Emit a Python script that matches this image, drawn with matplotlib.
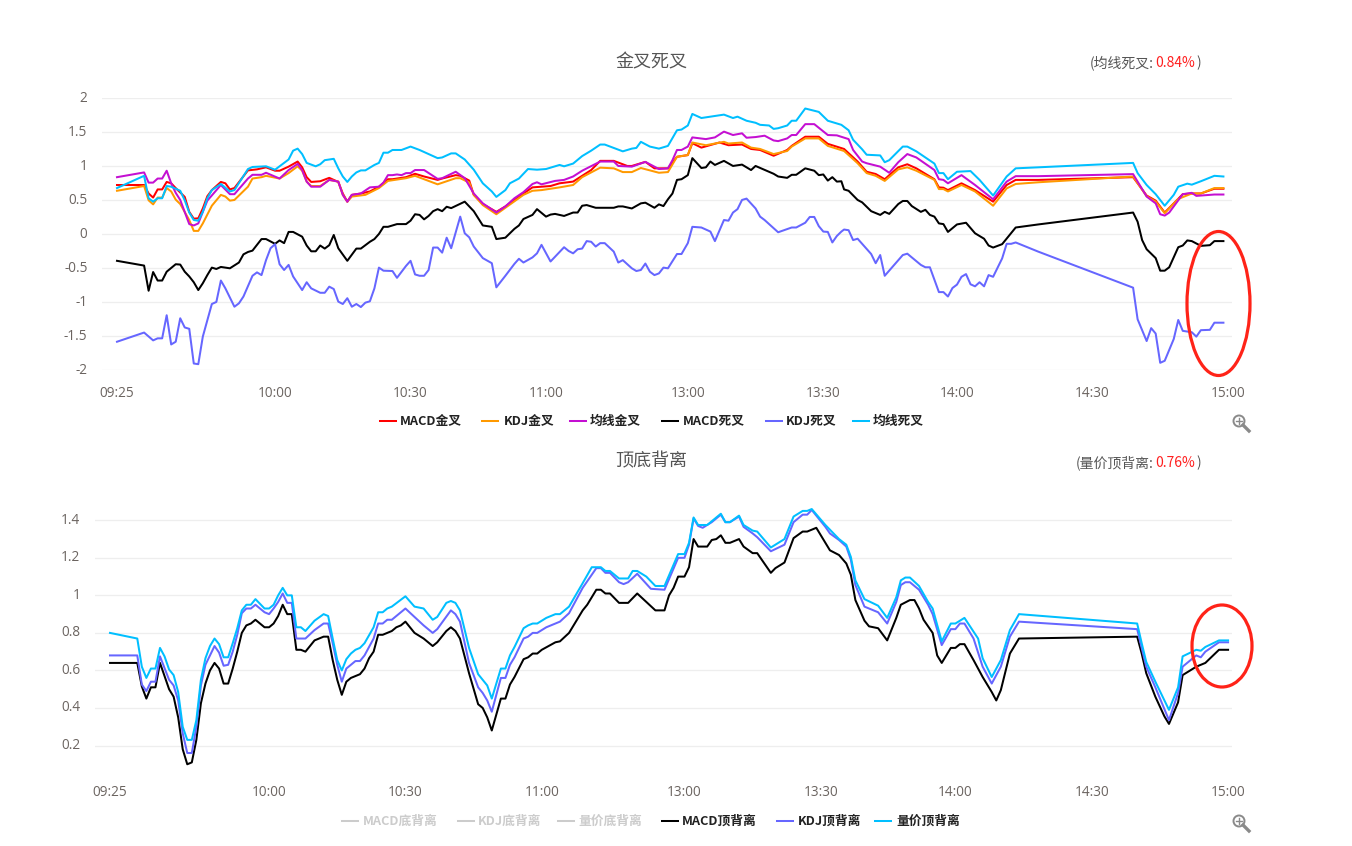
import matplotlib
matplotlib.use("Agg")
import matplotlib.pyplot as plt
from matplotlib.lines import Line2D
from matplotlib.patches import Ellipse, Circle
from matplotlib.transforms import ScaledTranslation

plt.rcParams['font.family'] = ['Noto Sans CJK SC', 'DejaVu Sans']

W, H = 1352, 846

# x is the position on the category axis: minutes since 09:25, lunch break squeezed out
time_pos = [0, 35, 65, 95, 126.4, 156.4, 186, 216, 246]
time_labels = ['09:25', '10:00', '10:30', '11:00', '13:00', '13:30', '14:00', '14:30', '15:00']

top_yticks = [2, 1.5, 1, 0.5, 0, -0.5, -1, -1.5, -2]
top_ylabels = ['2', '1.5', '1', '0.5', '0', '-0.5', '-1', '-1.5', '-2']
bot_yticks = [1.4, 1.2, 1, 0.8, 0.6, 0.4, 0.2]
bot_ylabels = ['1.4', '1.2', '1', '0.8', '0.6', '0.4', '0.2']

macd_gold = [(0,.725),(6,.725),(7,.60),(8,.54),(9,.66),(10,.66),(11,.77),(12,.75),(13,.68),(15,.55),(16,.33),(17,.23),(18,.235),(19,.38),(20,.56),(21,.65),(23,.77),(24,.75),(25,.66),(26,.68),(29,.94),(31,.955),(33,.985),(35,.935),(36,.935),(38,.995),(40,1.07),(41,.985),(42,.84),(43,.77),(45,.78),(47,.83),(49,.77),(50,.60),(51,.48),(52,.58),(54,.60),(56,.63),(58,.70),(60,.81),(61,.81),(64,.84),(66,.89),(68,.85),(71,.80),(72,.82),(75,.87),(76,.86),(78,.79),(79,.58),(81,.445),(84,.33),(86,.41),(90,.60),(92,.69),(96,.71),(98,.75),(101,.775),(105,.945),(107,1.08),(110,1.08),(113,1.005),(114,1.005),(117,1.065),(119,.97),(122,.97),(124,1.14),(126,1.165),(127,1.34),(129,1.275),(133,1.35),(135,1.31),(138,1.32),(140,1.255),(142,1.24),(145,1.155),(148,1.24),(149,1.30),(152,1.435),(155,1.435),(157,1.33),(161,1.255),(164,1.07),(166,.92),(168,.887),(170,.81),(173,.985),(175,1.03),(177,.97),(181,.81),(182,.69),(183,.685),(184,.65),(187,.75),(190,.65),(194,.48),(197,.725),(199,.80),(204,.80),(225,.84),(228,.57),(230,.495),(232,.32),(234,.455),(236,.59),(238,.60),(240,.60),(243,.67),(245,.67)]

kdj_gold = [(0,.64),(6,.71),(7,.50),(8,.44),(9,.54),(10,.54),(11,.68),(12,.63),(13,.51),(14,.445),(16,.21),(17,.05),(18,.05),(19,.16),(21,.42),(23,.58),(24,.555),(25,.495),(26,.505),(29,.70),(30,.82),(32,.84),(33,.86),(36,.82),(38,.90),(40,1.0),(41,.935),(42,.775),(43,.71),(45,.71),(47,.80),(49,.775),(50,.58),(51,.48),(52,.555),(55,.58),(58,.68),(60,.785),(64,.825),(66,.86),(68,.81),(71,.735),(75,.825),(76,.825),(78,.76),(79,.58),(81,.43),(84,.295),(90,.58),(92,.64),(94,.65),(98,.69),(101,.725),(103,.84),(107,.98),(110,.97),(112,.915),(114,.915),(116,.975),(120,.905),(122,.915),(124,1.14),(126,1.165),(127,1.35),(130,1.31),(134,1.36),(135,1.335),(138,1.35),(140,1.275),(142,1.255),(145,1.18),(148,1.225),(149,1.29),(152,1.41),(155,1.41),(157,1.30),(161,1.225),(164,1.045),(166,.90),(168,.86),(170,.785),(173,.955),(175,.985),(177,.935),(181,.80),(182,.665),(183,.665),(184,.63),(187,.725),(190,.63),(194,.42),(197,.675),(199,.74),(204,.765),(225,.85),(228,.56),(230,.48),(232,.31),(235,.52),(238,.60),(240,.60),(243,.68),(245,.68)]

ma_gold = [(0,.84),(6,.91),(7,.76),(8,.76),(9,.82),(10,.82),(11,.935),(12,.75),(13,.61),(14,.505),(16,.15),(17,.13),(18,.16),(19,.33),(20,.495),(23,.725),(25,.59),(26,.59),(29,.82),(30,.875),(32,.875),(33,.905),(36,.82),(38,.945),(40,1.035),(41,.945),(42,.775),(43,.70),(45,.70),(47,.80),(49,.775),(50,.58),(51,.48),(52,.58),(54,.60),(56,.69),(58,.70),(59,.76),(60,.87),(61,.87),(62,.88),(63,.87),(64,.90),(65,.90),(66,.945),(68,.945),(71,.815),(72,.825),(75,.92),(77,.825),(79,.60),(81,.455),(84,.32),(86,.41),(88,.53),(90,.62),(92,.74),(93,.765),(94,.735),(97,.785),(99,.80),(101,.85),(103,.935),(107,1.07),(110,1.07),(111,1.005),(114,.995),(117,1.065),(120,.96),(122,.97),(123,1.09),(124,1.24),(125,1.24),(126,1.29),(127,1.425),(130,1.40),(132,1.425),(134,1.51),(136,1.46),(138,1.485),(139,1.42),(141,1.43),(143,1.45),(145,1.38),(146,1.37),(148,1.41),(149,1.46),(150,1.46),(152,1.62),(154,1.62),(157,1.46),(159,1.455),(162,1.40),(163,1.24),(165,1.07),(166,1.045),(169,.995),(171,.905),(173,1.06),(175,1.18),(177,1.13),(181,.945),(182,.81),(183,.80),(184,.75),(187,.87),(190,.725),(194,.515),(197,.775),(199,.855),(204,.855),(225,.885),(228,.555),(230,.455),(231,.295),(232,.275),(233,.32),(236,.59),(238,.61),(239,.565),(243,.585),(245,.585)]

macd_dead = [(0,-.39),(6,-.46),(7,-.83),(8,-.555),(9,-.68),(10,-.68),(11,-.55),(13,-.44),(14,-.445),(15,-.55),(16,-.62),(17,-.705),(18,-.82),(19,-.72),(20,-.60),(21,-.49),(22,-.51),(23,-.48),(25,-.50),(27,-.415),(28,-.295),(29,-.26),(30,-.24),(32,-.07),(33,-.07),(35,-.14),(36,-.09),(37,-.13),(38,.035),(39,.035),(41,-.035),(42,-.165),(43,-.25),(44,-.25),(45,-.165),(46,-.21),(47,-.16),(48,-.01),(49,-.205),(51,-.39),(53,-.21),(54,-.21),(56,-.11),(57,-.07),(58,.005),(59,.11),(60,.11),(62,.15),(64,.15),(65,.20),(66,.295),(67,.285),(68,.22),(69,.27),(70,.34),(71,.37),(72,.34),(73,.405),(74,.385),(77,.48),(79,.34),(81,.13),(83,.11),(84,-.07),(86,-.05),(88,.08),(89,.13),(90,.225),(92,.285),(93,.37),(95,.26),(96,.29),(97,.30),(99,.27),(101,.32),(102,.32),(103,.42),(104,.43),(106,.39),(110,.39),(111,.41),(112,.41),(114,.38),(116,.455),(117,.465),(119,.39),(120,.44),(121,.415),(122,.515),(123,.60),(124,.80),(125,.81),(126,.87),(127,1.12),(129,.975),(130,.985),(131,1.07),(132,1.02),(134,1.08),(136,1.005),(138,1.025),(140,.945),(141,1.005),(145,.89),(146,.85),(148,.83),(149,.875),(150,.875),(152,.97),(154,.935),(155,.87),(156,.88),(157,.79),(158,.84),(159,.775),(160,.78),(161,.66),(162,.64),(164,.505),(165,.47),(167,.34),(169,.285),(170,.33),(171,.30),(173,.445),(174,.49),(175,.49),(176,.415),(178,.33),(179,.36),(180,.285),(181,.26),(182,.16),(183,.15),(184,.035),(186,.145),(188,.17),(190,.015),(192,-.065),(193,-.165),(194,-.195),(196,-.145),(199,.10),(204,.145),(225,.32),(226,.185),(227,-.085),(228,-.22),(230,-.35),(231,-.535),(232,-.535),(233,-.485),(235,-.19),(236,-.165),(237,-.09),(238,-.10),(240,-.17),(242,-.16),(243,-.10),(245,-.10)]

kdj_dead = [(0,-1.58),(6,-1.445),(8,-1.56),(9,-1.53),(10,-1.53),(11,-1.19),(12,-1.62),(13,-1.58),(14,-1.235),(15,-1.37),(16,-1.39),(17,-1.90),(18,-1.91),(19,-1.505),(21,-1.025),(22,-.995),(23,-.68),(24,-.795),(26,-1.065),(27,-1.015),(28,-.915),(30,-.61),(31,-.56),(32,-.60),(33,-.38),(34,-.205),(35,-.145),(36,-.44),(37,-.525),(38,-.45),(39,-.62),(41,-.82),(42,-.705),(43,-.795),(45,-.86),(46,-.86),(47,-.77),(48,-.805),(49,-.99),(50,-1.025),(51,-.94),(52,-1.065),(53,-1.025),(54,-1.07),(55,-1.005),(56,-.985),(57,-.795),(58,-.49),(59,-.535),(61,-.54),(62,-.64),(64,-.465),(65,-.39),(66,-.59),(67,-.61),(68,-.61),(69,-.525),(70,-.195),(71,-.195),(72,-.27),(73,-.05),(74,-.205),(76,.26),(77,.015),(78,-.045),(79,-.18),(81,-.35),(83,-.425),(84,-.78),(86,-.61),(88,-.435),(89,-.36),(90,-.415),(92,-.34),(93,-.28),(94,-.155),(96,-.40),(99,-.19),(100,-.245),(101,-.28),(102,-.22),(103,-.21),(104,-.10),(105,-.11),(106,-.18),(107,-.13),(108,-.13),(110,-.255),(111,-.415),(112,-.38),(114,-.50),(115,-.54),(116,-.525),(117,-.43),(118,-.55),(119,-.60),(120,-.575),(121,-.49),(122,-.50),(124,-.29),(125,-.29),(126,-.13),(127,.11),(129,.10),(131,.04),(132,-.10),(134,.21),(135,.20),(136,.32),(137,.37),(138,.505),(139,.525),(141,.38),(142,.26),(143,.21),(146,.03),(149,.10),(150,.10),(152,.17),(153,.255),(154,.255),(155,.12),(156,.04),(157,.035),(158,-.12),(159,-.025),(160,.04),(161,.07),(162,.06),(163,-.085),(164,-.065),(167,-.29),(168,-.425),(169,-.305),(170,-.61),(174,-.305),(175,-.285),(178,-.45),(179,-.485),(180,-.485),(182,-.85),(183,-.85),(184,-.915),(185,-.79),(186,-.74),(187,-.625),(188,-.585),(189,-.735),(190,-.765),(191,-.705),(192,-.765),(193,-.60),(194,-.625),(196,-.355),(197,-.14),(198,-.14),(199,-.12),(204,-.255),(225,-.785),(226,-1.25),(228,-1.57),(229,-1.38),(230,-1.46),(231,-1.89),(232,-1.86),(234,-1.54),(235,-1.26),(236,-1.42),(238,-1.44),(239,-1.505),(240,-1.41),(242,-1.405),(243,-1.30),(245,-1.30)]

ma_dead = [(0,.68),(6,.86),(7,.53),(8,.48),(9,.53),(10,.53),(11,.71),(12,.70),(14,.64),(15,.50),(16,.32),(17,.21),(18,.20),(19,.33),(20,.53),(21,.65),(23,.74),(25,.63),(26,.65),(29,.96),(30,.99),(33,1.0),(35,.95),(38,1.10),(39,1.23),(40,1.26),(41,1.18),(42,1.05),(44,1.0),(45,1.03),(46,1.09),(48,1.11),(49,.97),(50,.85),(51,.77),(52,.85),(53,.91),(54,.94),(55,.94),(57,1.02),(58,1.05),(59,1.20),(60,1.20),(61,1.24),(63,1.24),(65,1.29),(67,1.24),(69,1.18),(71,1.12),(72,1.13),(74,1.19),(75,1.19),(77,1.10),(79,.95),(81,.75),(83,.63),(84,.55),(86,.65),(87,.75),(89,.82),(91,.96),(93,.95),(95,.96),(98,1.02),(99,1.0),(101,1.04),(103,1.15),(105,1.23),(107,1.32),(108,1.32),(112,1.22),(114,1.26),(115,1.27),(116,1.36),(118,1.29),(120,1.26),(122,1.30),(124,1.53),(125,1.54),(126,1.60),(127,1.77),(129,1.71),(134,1.76),(136,1.71),(137,1.73),(139,1.67),(141,1.64),(142,1.61),(144,1.60),(145,1.55),(146,1.56),(148,1.60),(149,1.67),(150,1.67),(152,1.85),(155,1.80),(157,1.67),(160,1.61),(162,1.53),(163,1.39),(165,1.25),(166,1.17),(169,1.16),(170,1.06),(171,1.09),(174,1.29),(175,1.29),(177,1.22),(181,1.04),(182,.90),(183,.90),(184,.81),(186,.92),(189,.93),(191,.80),(194,.57),(197,.85),(199,.97),(204,.985),(225,1.05),(226,.90),(228,.725),(230,.59),(232,.42),(234,.58),(235,.70),(237,.745),(238,.73),(240,.78),(243,.86),(245,.85)]

macd_top = [(0,.64),(6,.64),(7,.515),(8,.45),(9,.51),(10,.51),(11,.64),(13,.50),(14,.46),(15,.35),(16,.18),(17,.10),(18,.11),(19,.23),(20,.425),(21,.53),(22,.60),(23,.64),(24,.61),(25,.53),(26,.53),(27,.61),(28,.70),(29,.80),(30,.84),(31,.85),(32,.87),(34,.83),(35,.83),(36,.85),(37,.89),(38,.95),(39,.90),(40,.90),(41,.71),(42,.71),(43,.70),(45,.76),(47,.78),(48,.78),(49,.655),(50,.55),(51,.47),(52,.54),(53,.56),(54,.57),(55,.58),(56,.61),(57,.665),(58,.70),(59,.79),(60,.79),(62,.81),(63,.83),(64,.84),(65,.86),(67,.80),(69,.77),(71,.73),(72,.75),(74,.81),(75,.83),(76,.81),(77,.77),(79,.585),(81,.42),(82,.40),(83,.35),(84,.28),(86,.45),(87,.45),(88,.525),(89,.565),(91,.66),(92,.67),(93,.69),(94,.69),(95,.71),(98,.75),(99,.755),(101,.80),(104,.92),(105,.95),(107,1.03),(108,1.03),(109,1.01),(110,1.01),(112,.96),(114,.96),(116,1.01),(120,.92),(122,.92),(123,1.0),(124,1.04),(125,1.10),(126,1.10),(127,1.15),(128,1.30),(129,1.26),(131,1.26),(132,1.295),(133,1.30),(134,1.32),(135,1.28),(136,1.28),(138,1.30),(139,1.26),(141,1.225),(142,1.225),(143,1.19),(145,1.12),(146,1.145),(148,1.175),(150,1.305),(152,1.34),(153,1.34),(155,1.36),(158,1.24),(160,1.215),(162,1.17),(163,1.11),(164,.975),(166,.865),(167,.835),(169,.825),(171,.76),(173,.88),(174,.95),(176,.975),(177,.975),(178,.93),(179,.87),(181,.80),(182,.68),(183,.64),(185,.72),(186,.72),(187,.74),(188,.74),(190,.655),(192,.565),(194,.485),(195,.44),(196,.495),(198,.69),(200,.77),(226,.78),(227,.69),(228,.585),(230,.46),(232,.355),(233,.315),(235,.43),(236,.575),(239,.62),(241,.64),(244,.71),(246,.71)]

kdj_top = [(0,.68),(6,.68),(7,.525),(8,.49),(9,.54),(10,.54),(11,.675),(13,.55),(14,.52),(15,.44),(16,.265),(17,.16),(18,.16),(19,.30),(20,.52),(21,.63),(22,.68),(23,.73),(24,.695),(25,.625),(26,.63),(27,.70),(28,.79),(29,.905),(30,.93),(31,.93),(32,.95),(34,.91),(35,.90),(36,.93),(37,.965),(38,1.01),(39,.96),(40,.96),(41,.77),(43,.77),(45,.815),(47,.85),(48,.85),(49,.745),(50,.63),(51,.54),(52,.61),(54,.65),(55,.65),(56,.68),(58,.77),(59,.85),(60,.85),(61,.87),(62,.87),(65,.93),(67,.885),(69,.84),(71,.80),(72,.82),(75,.92),(76,.90),(77,.86),(79,.64),(81,.51),(82,.48),(83,.44),(84,.38),(86,.56),(87,.56),(88,.63),(89,.67),(91,.77),(92,.78),(93,.80),(94,.80),(96,.83),(99,.86),(101,.905),(104,1.04),(107,1.145),(108,1.145),(109,1.12),(110,1.12),(112,1.07),(113,1.06),(114,1.07),(116,1.115),(119,1.035),(122,1.03),(125,1.20),(126,1.20),(127,1.27),(128,1.41),(129,1.37),(130,1.36),(132,1.39),(134,1.43),(135,1.39),(136,1.39),(138,1.42),(139,1.365),(141,1.33),(142,1.31),(145,1.235),(148,1.27),(150,1.39),(152,1.43),(153,1.43),(154,1.455),(157,1.365),(158,1.33),(160,1.295),(162,1.26),(163,1.19),(164,1.055),(166,.94),(169,.91),(171,.85),(173,.965),(174,1.055),(175,1.07),(176,1.07),(178,1.03),(180,.95),(181,.90),(183,.735),(185,.82),(186,.82),(187,.85),(188,.85),(190,.77),(192,.62),(194,.53),(196,.62),(198,.78),(200,.86),(226,.82),(227,.72),(228,.62),(230,.51),(233,.335),(235,.48),(236,.62),(239,.68),(240,.67),(241,.70),(244,.75),(246,.75)]

vol_top = [(0,.80),(6,.77),(7,.62),(8,.56),(9,.61),(10,.61),(11,.72),(12,.675),(13,.605),(14,.575),(15,.485),(16,.30),(17,.23),(18,.23),(19,.335),(20,.55),(21,.665),(22,.73),(23,.77),(24,.74),(25,.67),(26,.67),(27,.745),(28,.825),(29,.92),(30,.95),(31,.95),(32,.98),(34,.93),(35,.93),(36,.95),(37,1.0),(38,1.04),(39,1.0),(40,1.0),(41,.83),(42,.83),(43,.81),(45,.865),(47,.90),(48,.89),(49,.77),(50,.655),(51,.60),(52,.66),(53,.69),(54,.71),(55,.72),(56,.745),(58,.83),(59,.91),(60,.91),(61,.93),(62,.94),(65,.995),(67,.94),(69,.93),(71,.87),(72,.885),(74,.96),(75,.97),(76,.96),(77,.92),(79,.72),(81,.58),(83,.52),(84,.45),(86,.61),(87,.61),(88,.68),(89,.725),(91,.825),(92,.84),(93,.85),(94,.85),(96,.88),(98,.90),(99,.90),(101,.94),(104,1.065),(106,1.15),(107,1.15),(108,1.15),(109,1.13),(110,1.13),(112,1.09),(114,1.09),(115,1.13),(116,1.13),(118,1.10),(120,1.05),(122,1.05),(125,1.22),(126,1.22),(127,1.28),(128,1.415),(129,1.375),(131,1.375),(134,1.435),(135,1.39),(136,1.39),(138,1.425),(139,1.375),(141,1.345),(142,1.34),(145,1.255),(148,1.30),(150,1.42),(152,1.45),(153,1.45),(154,1.46),(157,1.375),(160,1.30),(162,1.27),(163,1.205),(164,1.08),(166,.98),(169,.945),(171,.88),(173,.99),(174,1.08),(175,1.095),(176,1.095),(178,1.05),(180,.965),(181,.93),(183,.755),(185,.85),(186,.85),(188,.88),(191,.77),(192,.665),(194,.565),(196,.655),(198,.815),(200,.90),(226,.85),(227,.745),(228,.645),(230,.54),(233,.39),(235,.51),(236,.675),(239,.71),(240,.705),(241,.725),(244,.76),(246,.76)]

top_series = [('MACD金叉', macd_gold, '#ff0000'), ('KDJ金叉', kdj_gold, '#ff9900'), ('均线金叉', ma_gold, '#c40fd2'),
              ('MACD死叉', macd_dead, '#000000'), ('KDJ死叉', kdj_dead, '#6666ff'), ('均线死叉', ma_dead, '#00bfff')]
bot_series = [('MACD顶背离', macd_top, '#000000'), ('KDJ顶背离', kdj_top, '#6666ff'), ('量价顶背离', vol_top, '#00bfff')]


def px_axes(fig, left, right, top, bottom):
    return fig.add_axes([left / W, 1 - bottom / H, (right - left) / W, (bottom - top) / H])


def setup_axes(ax, yticks, ylabels):
    for s in ax.spines.values():
        s.set_visible(False)
    ax.set_yticks(yticks, ylabels)
    ax.set_xticks(time_pos, time_labels)
    ax.tick_params(length=0, labelcolor='#6b6460', labelsize=9.8, labelfontfamily='Open Sans')
    ax.tick_params(axis='y', pad=10.5)
    ax.tick_params(axis='x', pad=11)
    ax.grid(axis='y', color='#eeeeee', lw=0.9)
    ax.set_axisbelow(True)
    # y labels sit 2px above their grid line
    up = ScaledTranslation(0, 2 / 100, ax.figure.dpi_scale_trans)
    for lab in ax.get_yticklabels():
        lab.set_transform(lab.get_transform() + up)


def draw_lines(ax, series):
    for name, pts, color in series:
        # early afternoon points land a little right of the whole-minute grid
        xs = [p[0] + 0.4 if 126 <= p[0] <= 160 else p[0] for p in pts]
        ax.plot(xs, [p[1] for p in pts], color=color, lw=1.45, label=name, solid_joinstyle='round')


def legend_row(over, y, items):
    # handle start, text start, label, colour, label colour
    for hx, tx, name, color, tcolor in items:
        over.add_line(Line2D([hx, hx + 16], [y, y], color=color, lw=1.45))
        over.text(tx, y, name, fontsize=9.2, fontweight='bold', color=tcolor, va='center', ha='left')


def zoom_icon(over, x, y):
    over.add_patch(Circle((x - 1, y - 1), 5.5, fill=False, ec='#8a8a8a', lw=1.4))
    over.add_line(Line2D([x + 3, x + 9], [y + 3, y + 9], color='#8a8a8a', lw=2.4))
    over.add_line(Line2D([x - 4, x + 2], [y - 1, y - 1], color='#8a8a8a', lw=1))
    over.add_line(Line2D([x - 1, x - 1], [y - 4, y + 2], color='#8a8a8a', lw=1))


fig = plt.figure(figsize=(W / 100, H / 100), dpi=100)

# top chart: 09:25 sits at 117px, 15:00 at 1228px
ax1 = px_axes(fig, 102, 1232, 98.3, 370.3)
ax1.set_ylim(-2, 2)
ax1.set_xlim((102 - 117) / 4.516, (1232 - 117) / 4.516)
setup_axes(ax1, top_yticks, top_ylabels)
draw_lines(ax1, top_series)

# bottom chart: 0.2 at 745.5px, 1.4 at 520.3px
ax2 = px_axes(fig, 95, 1232, 505, 770)
ax2.set_ylim(0.2 - (770 - 745.5) / 187.7, 1.4 + (520.3 - 505) / 187.7)
ax2.set_xlim((95 - 110) / 4.545, (1232 - 110) / 4.545)
setup_axes(ax2, bot_yticks, bot_ylabels)
draw_lines(ax2, bot_series)

# overlay in screen pixels for titles, legends, red marks
over = fig.add_axes([0, 0, 1, 1], facecolor='none')
over.set_xlim(0, W)
over.set_ylim(H, 0)
over.axis('off')

over.text(651, 62, '金叉死叉', fontsize=13, color='#555555', ha='center', va='center', fontweight='light')
over.text(651, 461.5, '顶底背离', fontsize=13, color='#555555', ha='center', va='center', fontweight='light')
over.text(1153.5, 63, '(均线死叉:', fontsize=10, color='#555555', ha='right', va='center')
over.text(1155, 63, '0.84%', fontsize=10, color='#ff2020', ha='left', va='center')
over.text(1201, 63, ')', fontsize=10, color='#555555', ha='right', va='center')
over.text(1153.5, 463, '(量价顶背离:', fontsize=10, color='#555555', ha='right', va='center')
over.text(1155, 463, '0.76%', fontsize=10, color='#ff2020', ha='left', va='center')
over.text(1201, 463, ')', fontsize=10, color='#555555', ha='right', va='center')

legend_row(over, 421, [(380, 400, 'MACD金叉', '#ff0000', '#222222'), (482, 504, 'KDJ金叉', '#ff9900', '#222222'),
                       (570, 590, '均线金叉', '#c40fd2', '#222222'), (662, 683, 'MACD死叉', '#000000', '#222222'),
                       (766, 786, 'KDJ死叉', '#6666ff', '#222222'), (853, 873, '均线死叉', '#00bfff', '#222222')])
legend_row(over, 821, [(342, 363, 'MACD底背离', '#cccccc', '#cccccc'), (458, 478, 'KDJ底背离', '#cccccc', '#cccccc'),
                       (558, 578, '量价底背离', '#cccccc', '#cccccc'), (662, 682, 'MACD顶背离', '#000000', '#222222'),
                       (777, 798, 'KDJ顶背离', '#6666ff', '#222222'), (875, 896, '量价顶背离', '#00bfff', '#222222')])

zoom_icon(over, 1240, 422)
zoom_icon(over, 1240, 822)

over.add_patch(Ellipse((1218.5, 303.5), 63, 144, fill=False, ec='#ff2318', lw=2.3))
over.add_patch(Ellipse((1222, 646), 60, 82, fill=False, ec='#ff2318', lw=2.3))

fig.savefig('out.png', dpi=100)
